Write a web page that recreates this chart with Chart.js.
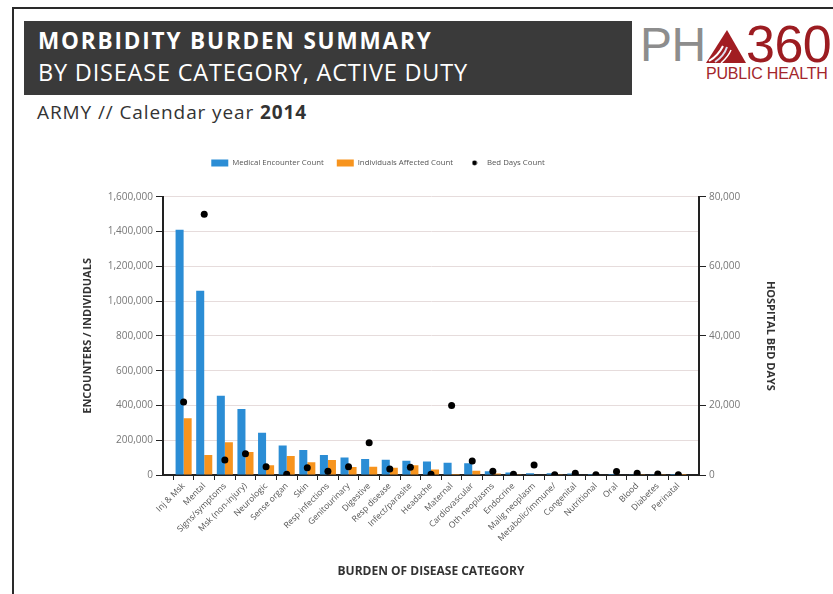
<!DOCTYPE html>
<html>
<head>
<meta charset="utf-8">
<script src="https://cdn.jsdelivr.net/npm/chart.js@4.4.1/dist/chart.umd.min.js"></script>
<style>
  html, body { margin: 0; padding: 0; background: #fff; }
  body { width: 833px; height: 594px; position: relative; overflow: hidden; font-family: "Open Sans", sans-serif; }
  .frame { position: absolute; left: 12px; top: 7px; width: 830px; height: 600px; border-left: 2px solid #2a2a2a; border-top: 2px solid #2a2a2a; }
  .titlebox { position: absolute; left: 24px; top: 21px; width: 608px; height: 74px; background: #3a3a3a; color: #fff; }
  .t1 { position: absolute; left: 14px; top: 4px; font-size: 22.5px; font-weight: bold; letter-spacing: 1.85px; white-space: nowrap; }
  .t2 { position: absolute; left: 14px; top: 35px; font-size: 23.5px; letter-spacing: 0.8px; white-space: nowrap; }
  .sub { position: absolute; left: 37px; top: 99px; font-size: 19px; letter-spacing: 0.9px; color: #333; white-space: nowrap; }
  .logo { position: absolute; left: 640px; top: 14px; width: 195px; height: 76px; font-family: "Liberation Sans", Arial, sans-serif; }
  .ph { position: absolute; left: 0; top: 3px; font-size: 48px; color: #8d8d8d; letter-spacing: -0.5px; }
  .n360 { position: absolute; left: 106px; top: 0; font-size: 52px; color: #9c1c21; letter-spacing: -0.5px; }
  .tri { position: absolute; left: 66px; top: 16px; }
  .ph2 { position: absolute; left: 66px; top: 51px; font-size: 16px; color: #a3262b; white-space: nowrap; letter-spacing: -0.2px; }
  #wrap { position: absolute; left: -22px; top: 140px; width: 800px; height: 454px; }
</style>
</head>
<body>
<div class="frame"></div>
<div class="titlebox">
  <div class="t1">MORBIDITY BURDEN SUMMARY</div>
  <div class="t2">BY DISEASE CATEGORY, ACTIVE DUTY</div>
</div>
<div class="sub">ARMY // Calendar year <b>2014</b></div>
<div class="logo">
  <div class="ph">PH</div>
  <svg class="tri" width="40" height="33" viewBox="0 0 40 33">
    <polygon points="21,0 40,33 0,33" fill="#a11d22"/>
    <path d="M3 31 Q12 26 17 16" stroke="#fff" stroke-width="2" fill="none"/>
    <path d="M9 32 Q18 26 21 17" stroke="#dde" stroke-width="2" fill="none"/>
    <path d="M15 33 Q22 27 25 20" stroke="#fff" stroke-width="1.5" fill="none"/>
  </svg>
  <div class="n360">360</div>
  <div class="ph2">PUBLIC HEALTH</div>
</div>
<div id="wrap"><canvas id="myChart" width="800" height="454"></canvas></div>

<script>
// values
const categories = ['Inj & Msk', 'Mental', 'Signs/symptoms', 'Msk (non-injury)', 'Neurologic', 'Sense organ',
  'Skin', 'Resp infections', 'Genitourinary', 'Digestive', 'Resp disease', 'Infect/parasite', 'Headache',
  'Maternal', 'Cardiovascular', 'Oth neoplasms', 'Endocrine', 'Malig neoplasm', 'Metabolic/immune/',
  'Congenital', 'Nutritional', 'Oral', 'Blood', 'Diabetes', 'Perinatal'];

const encounters = [1410000, 1060000, 456000, 379000, 243000, 170000, 144000, 115000, 100000, 92000, 88000,
  82000, 77000, 70000, 67000, 22000, 15000, 10000, 10000, 8000, 6000, 6000, 2000, 1500, 500];

const individuals = [326000, 115000, 188000, 132000, 56000, 109000, 73000, 86000, 46000, 48000, 42000,
  56000, 31000, 6000, 25000, 8000, 4000, 3000, 5000, 3000, 3000, 3000, 1000, 1000, 300];

const bedDays = [21000, 75000, 4300, 6100, 2400, 200, 2100, 1100, 2400, 9300, 1700, 2200, 200,
  20000, 4000, 1100, 200, 2900, 100, 500, 100, 1000, 500, 300, 100];

const countMax = 1600000, countStep = 200000;
const bedMax = 80000, bedStep = 20000;

const toXY = arr => arr.map((v, i) => ({x: i, y: v}));
const fmt = v => Number(v).toLocaleString('en-US');

// small black dot for the legend
const dot = document.createElement('canvas');
dot.width = 6; dot.height = 6;
let dctx = dot.getContext('2d');
dctx.fillStyle = '#000';
dctx.beginPath(); dctx.arc(3, 3, 2.4, 0, Math.PI * 2); dctx.fill();

Chart.defaults.font.family = '"Open Sans", sans-serif';

let ctx = document.getElementById('myChart').getContext('2d');
let chart = new Chart(ctx, {
  data: {
    datasets: [
      {
        type: 'bar', label: 'Medical Encounter Count', data: toXY(encounters),
        backgroundColor: '#2b8dd5', borderWidth: 0, yAxisID: 'y', order: 1,
        categoryPercentage: 0.78, barPercentage: 1
      },
      {
        type: 'bar', label: 'Individuals Affected Count', data: toXY(individuals),
        backgroundColor: '#f7941e', borderWidth: 0, yAxisID: 'y', order: 1,
        categoryPercentage: 0.78, barPercentage: 1
      },
      {
        type: 'line', label: 'Bed Days Count', data: toXY(bedDays), showLine: false,
        pointRadius: 3.5, pointBackgroundColor: '#000', pointBorderWidth: 0, borderColor: '#000',
        backgroundColor: '#000', yAxisID: 'y1', order: 0
      }
    ]
  },
  options: {
    responsive: false,
    animation: false,
    layout: { padding: { top: 6 } },
    plugins: {
      tooltip: { enabled: false },
      legend: {
        labels: {
          usePointStyle: true, pointStyleWidth: 17, boxHeight: 7, padding: 13,
          color: '#555', font: { size: 7.8 },
          generateLabels: (c) => {
            let items = Chart.defaults.plugins.legend.labels.generateLabels(c);
            items.sort((a, b) => a.datasetIndex - b.datasetIndex);
            items.forEach(it => {
              it.pointStyle = it.datasetIndex < 2 ? 'rect' : dot;
              it.lineWidth = 0;
            });
            return items;
          }
        }
      }
    },
    scales: {
      x: {
        type: 'linear', min: -1, max: categories.length, offset: false,
        afterBuildTicks: s => {
          s.ticks = [];
          for (let i = -1; i <= categories.length; i++) s.ticks.push({value: i});
        },
        ticks: {
          autoSkip: false, maxRotation: 45, minRotation: 45, padding: 1,
          color: '#555', font: { size: 8.5 },
          callback: v => categories[v] ?? ''
        },
        grid: { drawOnChartArea: false, tickLength: 5, tickColor: '#222' },
        border: { color: '#222', width: 2 },
        title: {
          display: true, text: 'BURDEN OF DISEASE CATEGORY', color: '#333',
          font: { size: 12, weight: 'bold' }, padding: { top: 0, bottom: 15 }
        },
        afterFit: s => { s.height = 119; }
      },
      y: {
        position: 'left', min: 0, max: countMax,
        ticks: { stepSize: countStep, callback: fmt, color: '#777', font: { size: 10 }, padding: 3 },
        grid: { color: '#e6dcdc', tickColor: '#222', tickLength: 7 },
        border: { color: '#222', width: 2 },
        title: {
          display: true, text: 'ENCOUNTERS / INDIVIDUALS', color: '#333',
          font: { size: 11, weight: 'bold' }, padding: { top: 103, bottom: 0 }
        },
        afterFit: s => { s.width = 185; }
      },
      y1: {
        position: 'right', min: 0, max: bedMax,
        ticks: { stepSize: bedStep, callback: fmt, color: '#777', font: { size: 10 }, padding: 3 },
        grid: { drawOnChartArea: false, tickColor: '#222', tickLength: 7 },
        border: { color: '#222', width: 2 },
        title: {
          display: true, text: 'HOSPITAL BED DAYS', color: '#333',
          font: { size: 11, weight: 'bold' }, padding: { top: 1.5, bottom: 0 }
        },
        afterFit: s => { s.width = 79; }
      }
    }
  },
  plugins: [{
    id: 'legendGap',
    beforeInit: (c) => {
      const fit = c.legend.fit;
      c.legend.fit = function () { fit.call(this); this.height += 20; };
    }
  }]
});
</script>
</body>
</html>
